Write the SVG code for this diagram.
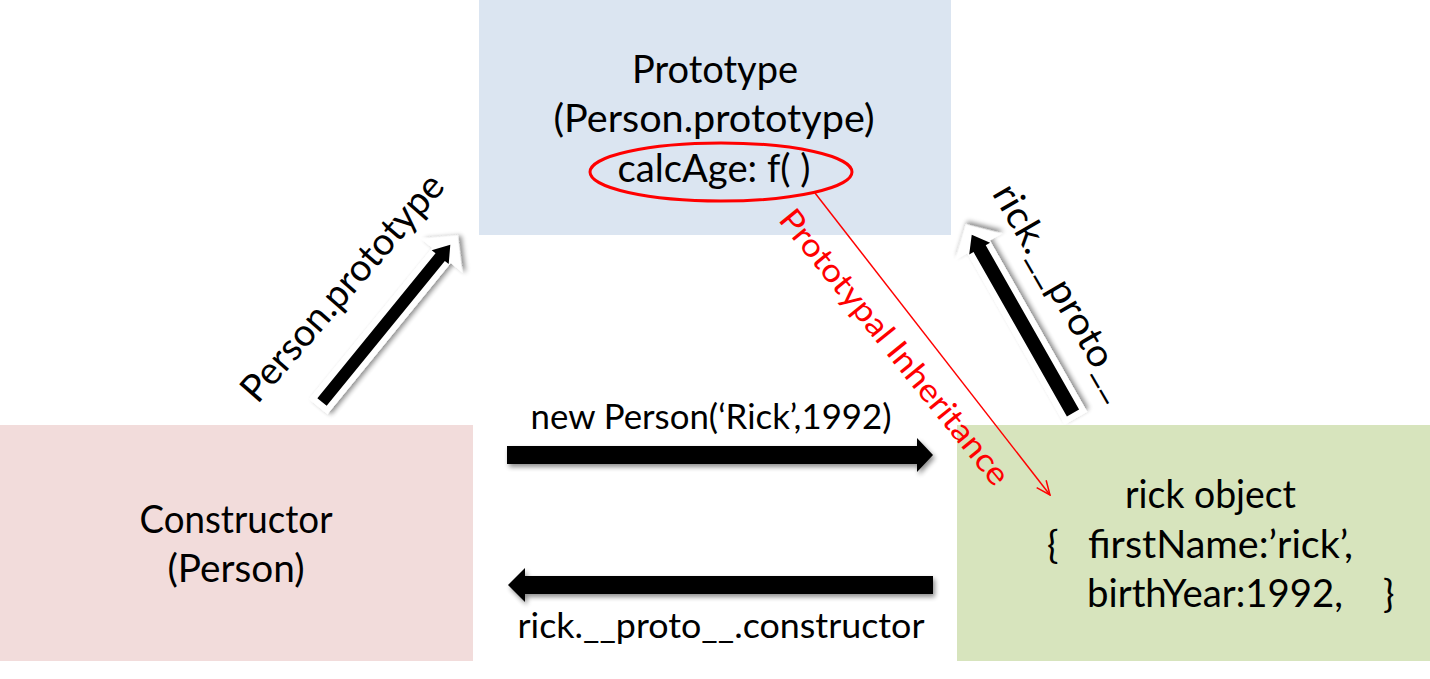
<svg xmlns="http://www.w3.org/2000/svg" width="1430" height="679" viewBox="0 0 1430 679">
<defs>
<style>
.t{font-family:Lato,"Open Sans","Liberation Sans",sans-serif;fill:#000;}
.main{font-size:38px;}
.lbl{font-size:35px;}
.red{font-family:Lato,"Open Sans","Liberation Sans",sans-serif;font-size:32px;fill:#ff0000;}
.blk{fill:#000;}
.wht{fill:#fff;}
</style>
<filter id="sh" x="-20%" y="-20%" width="140%" height="140%">
<feGaussianBlur in="SourceAlpha" stdDeviation="2.5"/>
<feOffset dx="2" dy="3" result="b"/>
<feComponentTransfer><feFuncA type="linear" slope="0.45"/></feComponentTransfer>
<feMerge><feMergeNode/><feMergeNode in="SourceGraphic"/></feMerge>
</filter>
<marker id="redhead" markerWidth="16" markerHeight="16" refX="15" refY="8" orient="auto" markerUnits="userSpaceOnUse">
<path d="M1,2 L15,8 L1,14" fill="none" stroke="#ff0000" stroke-width="1.5"/>
</marker>
</defs>
<rect width="1430" height="679" fill="#fff"/>

<g id="prototype">
<rect x="479" y="0" width="472" height="235" fill="#dbe5f1"/>
<text class="t main" x="715" y="83" text-anchor="middle" textLength="166" lengthAdjust="spacingAndGlyphs">Prototype</text>
<text class="t main" x="714" y="132" text-anchor="middle" textLength="321" lengthAdjust="spacingAndGlyphs">(Person.prototype)</text>
<text class="t main" x="714" y="182" text-anchor="middle" textLength="193" lengthAdjust="spacingAndGlyphs">calcAge: f( )</text>
<ellipse cx="721" cy="172" rx="131" ry="29" fill="none" stroke="#ff0000" stroke-width="3"/>
</g>

<g id="constructor">
<rect x="0" y="425" width="473" height="236" fill="#f2dcdb"/>
<text class="t main" x="236" y="533" text-anchor="middle" textLength="193" lengthAdjust="spacingAndGlyphs">Constructor</text>
<text class="t main" x="236" y="582" text-anchor="middle" textLength="137" lengthAdjust="spacingAndGlyphs">(Person)</text>
</g>

<g id="rick">
<rect x="957" y="425" width="473" height="236" fill="#d7e4bd"/>
<text class="t main" x="1125" y="508" textLength="171" lengthAdjust="spacingAndGlyphs">rick object</text>
<text class="t main" x="1047" y="558">{</text>
<text class="t main" x="1088" y="558" textLength="265" lengthAdjust="spacingAndGlyphs">firstName:’rick’,</text>
<text class="t main" x="1087" y="607" textLength="256" lengthAdjust="spacingAndGlyphs">birthYear:1992,</text>
<text class="t main" x="1383" y="607">}</text>
</g>

<g id="connectors">
<g filter="url(#sh)">
<polygon class="blk" points="507,446 917,446 917,438 933,455 917,472 917,464 507,464"/>
<polygon class="blk" points="933,576 525,576 525,568 508,585 525,602 525,594 933,594"/>
</g>
<g transform="translate(322,402) rotate(-50.8)">
<polygon class="wht" filter="url(#sh)" points="-6,-12 189,-12 189,-27 215,0 189,27 189,12 -6,12"/>
<polygon class="blk" points="0,-6 187,-6 187,-11 203,0 187,11 187,6 0,6"/>
</g>
<g transform="translate(1073,413) rotate(-119.6)">
<polygon class="wht" filter="url(#sh)" points="-6,-13 191,-13 191,-27 217,0 191,27 191,13 -6,13"/>
<polygon class="blk" points="0,-7 189,-7 189,-12 205,0 189,12 189,7 0,7"/>
</g>
<line x1="815" y1="193" x2="1050" y2="495" stroke="#ff0000" stroke-width="1.5" marker-end="url(#redhead)"/>
<text class="t lbl" x="711" y="429" text-anchor="middle" textLength="361" lengthAdjust="spacingAndGlyphs">new Person(‘Rick’,1992)</text>
<text class="t lbl" x="721" y="638" text-anchor="middle" textLength="407" lengthAdjust="spacingAndGlyphs">rick.__proto__.constructor</text>
<text class="t main" transform="translate(352,296) rotate(-49)" text-anchor="middle" textLength="288" lengthAdjust="spacingAndGlyphs">Person.prototype</text>
<text class="t main" transform="translate(1052,298) rotate(60)" text-anchor="middle" textLength="242" lengthAdjust="spacingAndGlyphs">rick.__proto__</text>
<text class="red" transform="translate(886,354) rotate(51)" text-anchor="middle" textLength="345" lengthAdjust="spacingAndGlyphs">Prototypal Inheritance</text>
</g>
</svg>
